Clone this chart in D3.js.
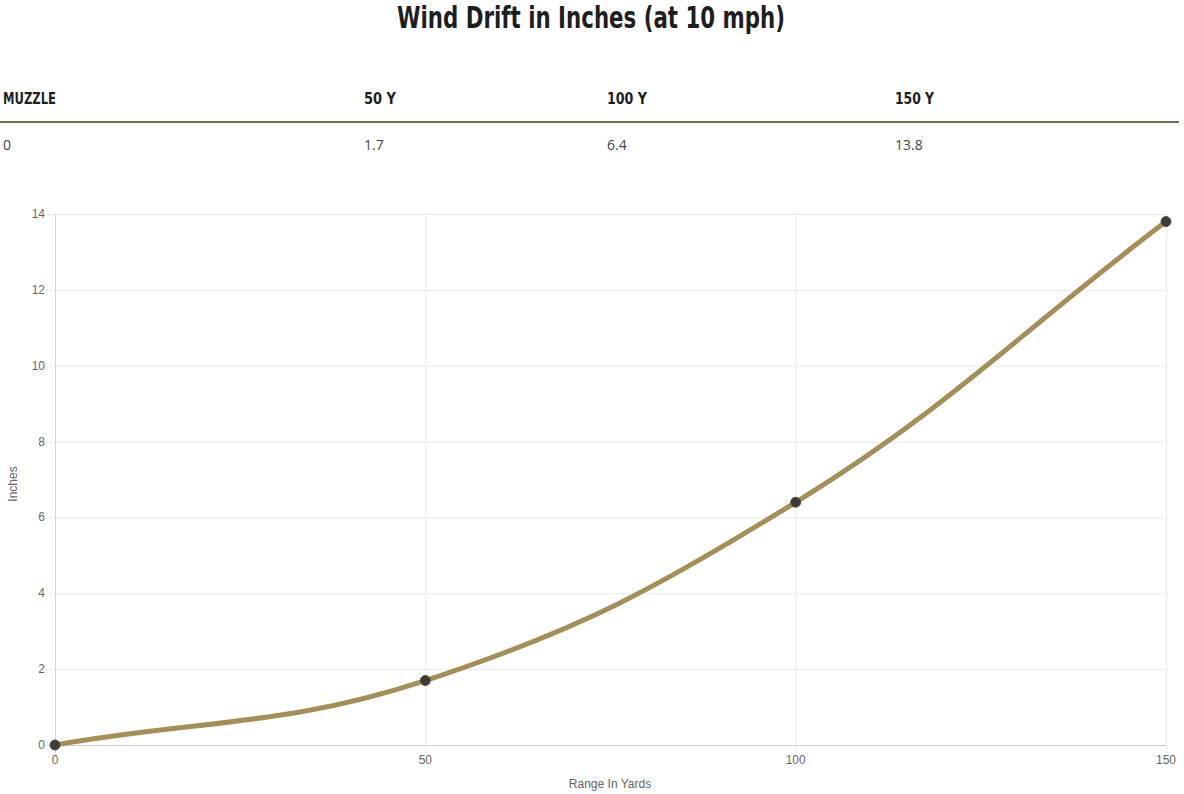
<!DOCTYPE html>
<html><head><meta charset="utf-8">
<script src="https://cdn.jsdelivr.net/npm/d3@7"></script>
<style>
html,body{margin:0;padding:0;background:#fff;}
svg{display:block;}
</style></head>
<body><svg id="c" width="1184" height="794"></svg>
<script>
const titleText = "Wind Drift in Inches (at 10 mph)";
const tableHeaders = ["MUZZLE", "50 Y", "100 Y", "150 Y"];
const tableValues = ["0", "1.7", "6.4", "13.8"];
const ranges = [0, 50, 100, 150];
const drift = [0, 1.7, 6.4, 13.8];
const yTicks = [0, 2, 4, 6, 8, 10, 12, 14];
const xTicks = [0, 50, 100, 150];

const svg = d3.select("#c");
const condensed = "'DejaVu Sans', sans-serif";

svg.append("text").attr("x", 397).attr("y", 28)
  .attr("textLength", 388).attr("lengthAdjust", "spacingAndGlyphs")
  .style("font-family", condensed)
  .style("font-weight", "bold").style("font-size", "31px").style("fill", "#1e1e1e")
  .text(titleText);

const colX = [3, 364, 607, 895];
const colW = [53, 32, 40, 39];
svg.selectAll("text.th").data(tableHeaders).join("text").attr("class", "th")
  .attr("x", (d, i) => colX[i]).attr("y", 104)
  .attr("textLength", (d, i) => colW[i]).attr("lengthAdjust", "spacingAndGlyphs")
  .style("font-family", condensed)
  .style("font-weight", "bold").style("font-size", "16.5px").style("fill", "#1e1e1e")
  .text(d => d);
svg.append("line").attr("x1", 0).attr("x2", 1179).attr("y1", 122).attr("y2", 122)
  .attr("stroke", "#7b6e4f").attr("stroke-width", 2);
svg.selectAll("text.td").data(tableValues).join("text").attr("class", "td")
  .attr("x", (d, i) => colX[i]).attr("y", 150)
  .style("font-family", "'Open Sans', sans-serif").style("font-size", "14px").style("fill", "#444")
  .text(d => d);

const x = d3.scaleLinear().domain([0, 150]).range([55, 1166]);
const y = d3.scaleLinear().domain([0, 14]).range([745, 214]);

const g = svg.append("g");
g.selectAll("line.gy").data(yTicks).join("line").attr("class", "gy")
  .attr("x1", 47).attr("x2", 1166).attr("y1", d => y(d) + 0.5).attr("y2", d => y(d) + 0.5)
  .attr("stroke", d => d === 0 ? "#cfcfcf" : "#e8e8e8").attr("stroke-width", 1);
g.selectAll("line.gx").data(xTicks).join("line").attr("class", "gx")
  .attr("x1", d => x(d) + 0.5).attr("x2", d => x(d) + 0.5).attr("y1", 214).attr("y2", 753)
  .attr("stroke", d => d === 0 ? "#d5d5d5" : "#e8e8e8").attr("stroke-width", 1);

const tickFont = "'Liberation Sans', Arial, sans-serif";
g.selectAll("text.ty").data(yTicks).join("text").attr("class", "ty")
  .attr("x", 45).attr("y", d => y(d) + 4).attr("text-anchor", "end")
  .style("font-family", tickFont).style("font-size", "12px").style("fill", "#666")
  .text(d => d);
g.selectAll("text.tx").data(xTicks).join("text").attr("class", "tx")
  .attr("x", d => x(d)).attr("y", 764).attr("text-anchor", "middle")
  .style("font-family", tickFont).style("font-size", "12px").style("fill", "#666")
  .text(d => d);
svg.append("text").attr("x", 610).attr("y", 788).attr("text-anchor", "middle")
  .style("font-family", tickFont).style("font-size", "12px").style("fill", "#666")
  .text("Range In Yards");
svg.append("text").attr("transform", "translate(17,484) rotate(-90)").attr("text-anchor", "middle")
  .style("font-family", tickFont).style("font-size", "12px").style("fill", "#666")
  .text("Inches");

// Chart.js-style spline (tension 0.4)
const pts = ranges.map((r, i) => [x(r), y(drift[i])]);
const t = 0.4;
const cps = pts.map((p, i) => {
  const prev = pts[i - 1] || p, next = pts[i + 1] || p;
  const d01 = Math.hypot(p[0] - prev[0], p[1] - prev[1]);
  const d12 = Math.hypot(next[0] - p[0], next[1] - p[1]);
  let s01 = d01 / (d01 + d12), s12 = d12 / (d01 + d12);
  if (isNaN(s01)) s01 = 0; if (isNaN(s12)) s12 = 0;
  const fa = t * s01, fb = t * s12;
  return {
    prev: [p[0] - fa * (next[0] - prev[0]), p[1] - fa * (next[1] - prev[1])],
    next: [p[0] + fb * (next[0] - prev[0]), p[1] + fb * (next[1] - prev[1])]
  };
});
const path = d3.path();
path.moveTo(pts[0][0], pts[0][1]);
for (let i = 1; i < pts.length; i++) {
  path.bezierCurveTo(cps[i - 1].next[0], cps[i - 1].next[1], cps[i].prev[0], cps[i].prev[1], pts[i][0], pts[i][1]);
}
g.append("path").attr("d", path.toString()).attr("fill", "none")
  .attr("stroke", "#a48f5b").attr("stroke-width", 5).attr("stroke-linejoin", "round");

g.selectAll("circle.pt").data(ranges).join("circle").attr("class", "pt")
  .attr("cx", d => x(d)).attr("cy", (d, i) => y(drift[i])).attr("r", 5)
  .attr("fill", "#3e3b37").attr("stroke", "#55524c").attr("stroke-width", 1);
</script></body></html>
